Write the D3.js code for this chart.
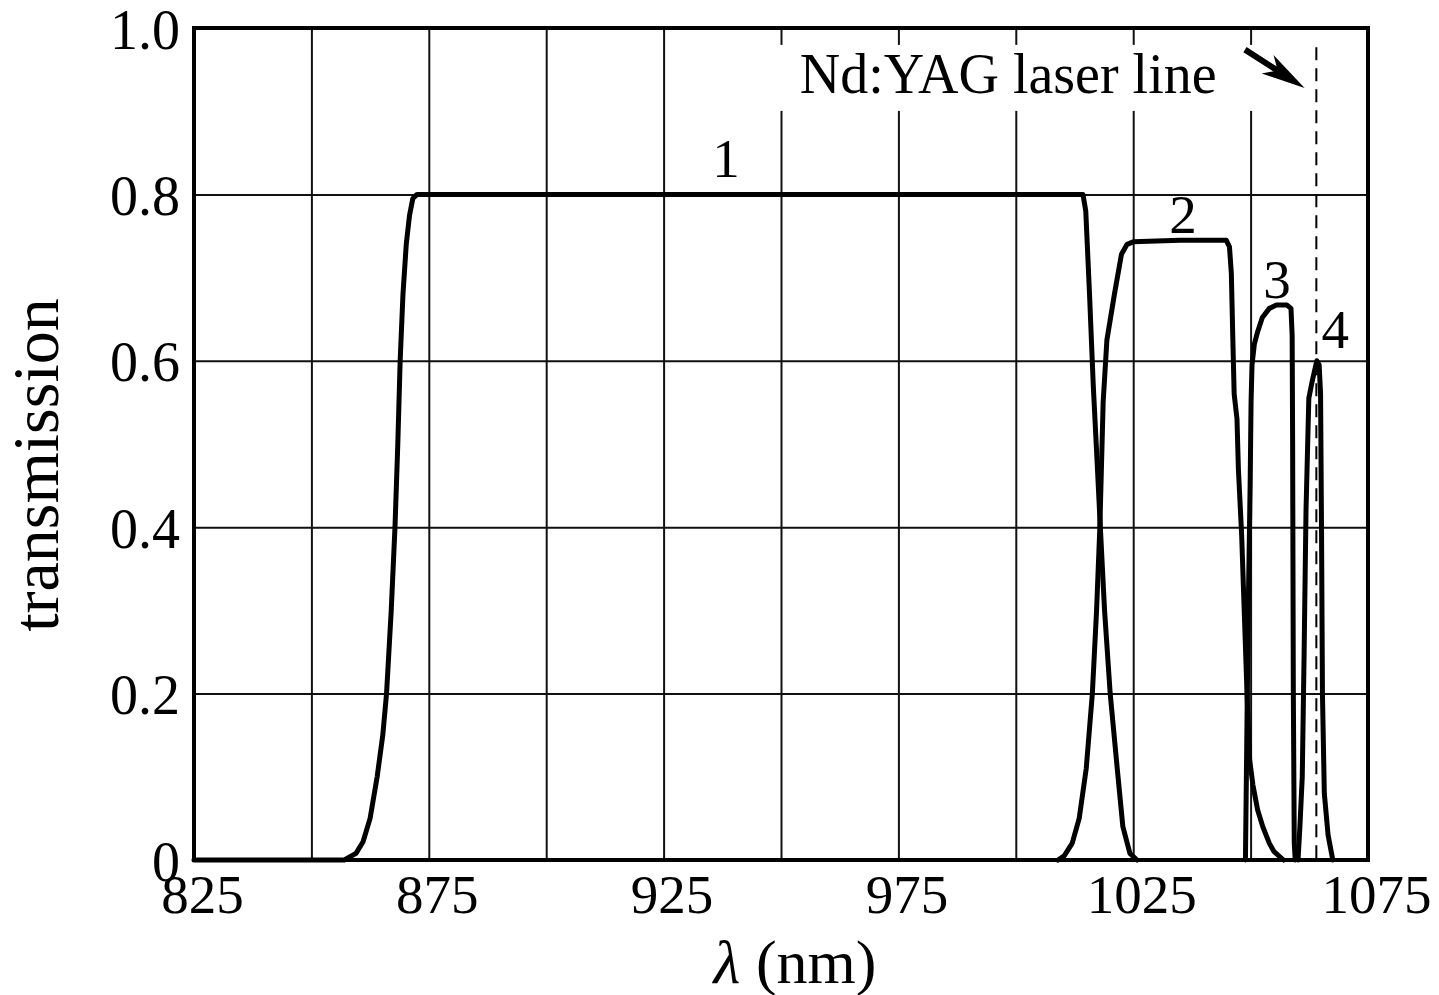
<!DOCTYPE html>
<html>
<head>
<meta charset="utf-8">
<script src="https://cdn.jsdelivr.net/npm/d3@7/dist/d3.min.js"></script>
<style>
	body { margin: 0; background: #ffffff; }
	svg text { font-family: "Liberation Serif", "DejaVu Serif", serif; fill: #000000; }
</style>
</head>
<body>
<svg id="chart" width="1439" height="995"></svg>
<script>
// Filter transmission curves, wavelength in nm and transmission
var filter1Nm = [825, 857, 859.5, 861, 862.5, 864, 865.2, 866, 867, 867.8, 868.4, 868.9, 869.5, 870.2, 870.9, 871.6, 872.5, 1014.3, 1014.9, 1015.7, 1016.5, 1017.3, 1018, 1018.9, 1020.1, 1021.6, 1022.8, 1024.3, 1025.8];
var filter1T  = [0, 0, 0.008, 0.022, 0.05, 0.1, 0.15, 0.2, 0.3, 0.4, 0.5, 0.6, 0.68, 0.74, 0.775, 0.795, 0.8, 0.8, 0.78, 0.68, 0.57, 0.48, 0.4, 0.3, 0.2, 0.11, 0.04, 0.008, 0];

var filter2Nm = [1009, 1010.3, 1012, 1013.5, 1015, 1016.3, 1017.2, 1017.9, 1018.6, 1019.4, 1021, 1022.5, 1023.7, 1025, 1035, 1044.8, 1045.5, 1045.9, 1046.2, 1046.5, 1047.1, 1047.4, 1048.1, 1048.7, 1049.3, 1049.8, 1050.5, 1051.5, 1052.6, 1054, 1055, 1057];
var filter2T  = [0, 0.005, 0.02, 0.05, 0.11, 0.2, 0.3, 0.4, 0.55, 0.625, 0.68, 0.728, 0.74, 0.743, 0.745, 0.745, 0.737, 0.705, 0.63, 0.56, 0.53, 0.47, 0.39, 0.29, 0.19, 0.12, 0.09, 0.06, 0.04, 0.02, 0.01, 0];

var filter3Nm = [1048.9, 1049.1, 1049.5, 1049.9, 1050.1, 1050.3, 1050.8, 1051.5, 1052.5, 1054, 1055.5, 1057.7, 1058.6, 1058.85, 1058.95, 1059.1, 1059.3, 1059.5];
var filter3T  = [0, 0.1, 0.3, 0.45, 0.55, 0.595, 0.62, 0.635, 0.652, 0.663, 0.667, 0.667, 0.663, 0.63, 0.5, 0.2, 0.02, 0];

var filter4Nm = [1060.1, 1060.5, 1061.0, 1061.4, 1061.8, 1062.4, 1063.1, 1064.1, 1064.6, 1064.9, 1065.1, 1065.3, 1065.7, 1066.5, 1067.5];
var filter4T  = [0, 0.04, 0.1, 0.25, 0.42, 0.555, 0.575, 0.6, 0.595, 0.56, 0.4, 0.2, 0.08, 0.03, 0];

var curveLabels = ["1", "2", "3", "4"];
var curveLabelNm = [938.3, 1035.6, 1055.6, 1068];
var curveLabelT = [0.821, 0.754, 0.675, 0.615];

var gridNm = [825, 850, 875, 900, 925, 950, 975, 1000, 1025, 1050, 1075];
var xTickNm = [825, 875, 925, 975, 1025, 1075];
var yTicks = [0, 0.2, 0.4, 0.6, 0.8, 1.0];
var yTickLabels = ["0", "0.2", "0.4", "0.6", "0.8", "1.0"];

var laserLineNm = 1064;
var laserText = "Nd:YAG laser line";
var laserTextAt = [954, 0.922];
var arrowFrom = [1048.8, 0.974];
var arrowTo = [1061.5, 0.928];

var plotLeft = 194, plotRight = 1368, plotTop = 28, plotBottom = 860;

var svg = d3.select("#chart");

var x = d3.scaleLinear().domain([825, 1075]).range([plotLeft, plotRight]);
var y = d3.scaleLinear().domain([0, 1]).range([plotBottom, plotTop]);

// grid
svg.append("g")
	.attr("transform", "translate(0," + plotBottom + ")")
	.call(d3.axisBottom(x).tickValues(gridNm).tickSize(-(plotBottom - plotTop)).tickFormat(""))
	.call(function(g) {
		g.select(".domain").remove();
		g.selectAll("line").attr("stroke", "#111").attr("stroke-width", 2);
	});

svg.append("g")
	.attr("transform", "translate(" + plotLeft + ",0)")
	.call(d3.axisLeft(y).tickValues(yTicks).tickSize(-(plotRight - plotLeft)).tickFormat(""))
	.call(function(g) {
		g.select(".domain").remove();
		g.selectAll("line").attr("stroke", "#111").attr("stroke-width", 2);
	});

// tick labels
svg.append("g")
	.attr("transform", "translate(0," + plotBottom + ")")
	.call(d3.axisBottom(x).tickValues(xTickNm).tickSize(0).tickPadding(14).tickFormat(d3.format("d")))
	.call(function(g) {
		g.select(".domain").remove();
		g.selectAll("text")
			.attr("font-size", "55px")
			.attr("font-family", "Liberation Serif")
			.attr("fill", "#000")
			.attr("dx", "8px");
	});

svg.append("g")
	.attr("transform", "translate(" + plotLeft + ",0)")
	.call(d3.axisLeft(y).tickValues(yTicks).tickSize(0).tickPadding(14).tickFormat(function(d, i) { return yTickLabels[i]; }))
	.call(function(g) {
		g.select(".domain").remove();
		g.selectAll("text")
			.attr("font-size", "56px")
			.attr("font-family", "Liberation Serif")
			.attr("fill", "#000")
			.attr("dy", "0.36em");
	});

// white patch behind the annotation, the grid is broken there
var p0 = [x(arrowFrom[0]), y(arrowFrom[1])];
var p1 = [x(arrowTo[0]), y(arrowTo[1])];
var patch = svg.append("rect").attr("fill", "#fff");

// laser line
svg.append("line")
	.attr("x1", x(laserLineNm))
	.attr("x2", x(laserLineNm))
	.attr("y1", y(0.977))
	.attr("y2", y(0))
	.attr("stroke", "#000")
	.attr("stroke-width", 2)
	.attr("stroke-dasharray", "13,8");

// curves
var line = d3.line()
	.x(function(d) { return x(d[0]); })
	.y(function(d) { return y(d[1]); });

[[filter1Nm, filter1T], [filter2Nm, filter2T], [filter3Nm, filter3T], [filter4Nm, filter4T]].forEach(function(f) {
	svg.append("path")
		.datum(d3.zip(f[0], f[1]))
		.attr("d", line)
		.attr("fill", "none")
		.attr("stroke", "#000")
		.attr("stroke-width", 5)
		.attr("stroke-linejoin", "round")
		.attr("stroke-linecap", "round");
});

// frame
svg.append("rect")
	.attr("x", plotLeft)
	.attr("y", plotTop)
	.attr("width", plotRight - plotLeft)
	.attr("height", plotBottom - plotTop)
	.attr("fill", "none")
	.attr("stroke", "#000")
	.attr("stroke-width", 4);

// curve numbers
svg.selectAll(".curve-label")
	.data(curveLabels)
	.enter().append("text")
	.attr("class", "curve-label")
	.attr("x", function(d, i) { return x(curveLabelNm[i]); })
	.attr("y", function(d, i) { return y(curveLabelT[i]); })
	.attr("font-size", "55px")
	.attr("text-anchor", "middle")
	.text(function(d) { return d; });

// laser annotation
var laserLabel = svg.append("text")
	.attr("x", x(laserTextAt[0]))
	.attr("y", y(laserTextAt[1]))
	.attr("font-size", "56px")
	.text(laserText);

var bb = laserLabel.node().getBBox();
patch.attr("x", bb.x - 24)
	.attr("y", bb.y + 2)
	.attr("width", p0[0] + 14 - (bb.x - 24))
	.attr("height", bb.height + 4);

var len = Math.hypot(p1[0] - p0[0], p1[1] - p0[1]);
var ux = (p1[0] - p0[0]) / len, uy = (p1[1] - p0[1]) / len;
var headLen = 44, headW = 11, notch = 12;

svg.append("line")
	.attr("x1", p0[0])
	.attr("y1", p0[1])
	.attr("x2", p1[0] - ux * (headLen - notch))
	.attr("y2", p1[1] - uy * (headLen - notch))
	.attr("stroke", "#000")
	.attr("stroke-width", 6);

var bx = p1[0] - ux * headLen, by = p1[1] - uy * headLen;
svg.append("path")
	.attr("d", "M" + p1[0] + "," + p1[1] +
		"L" + (bx - uy * headW) + "," + (by + ux * headW) +
		"L" + (p1[0] - ux * (headLen - notch)) + "," + (p1[1] - uy * (headLen - notch)) +
		"L" + (bx + uy * headW) + "," + (by - ux * headW) + "Z")
	.attr("fill", "#000");

// axis titles
svg.append("text")
	.attr("transform", "translate(58," + ((plotTop + plotBottom) / 2 + 21) + ") rotate(-90)")
	.attr("font-size", "66px")
	.attr("text-anchor", "middle")
	.text("transmission");

var xTitle = svg.append("text")
	.attr("x", (plotLeft + plotRight) / 2 + 14)
	.attr("y", 983)
	.attr("font-size", "62px")
	.attr("text-anchor", "middle");
xTitle.append("tspan").attr("font-style", "italic").text("λ");
xTitle.append("tspan").text(" (nm)");
</script>
</body>
</html>
